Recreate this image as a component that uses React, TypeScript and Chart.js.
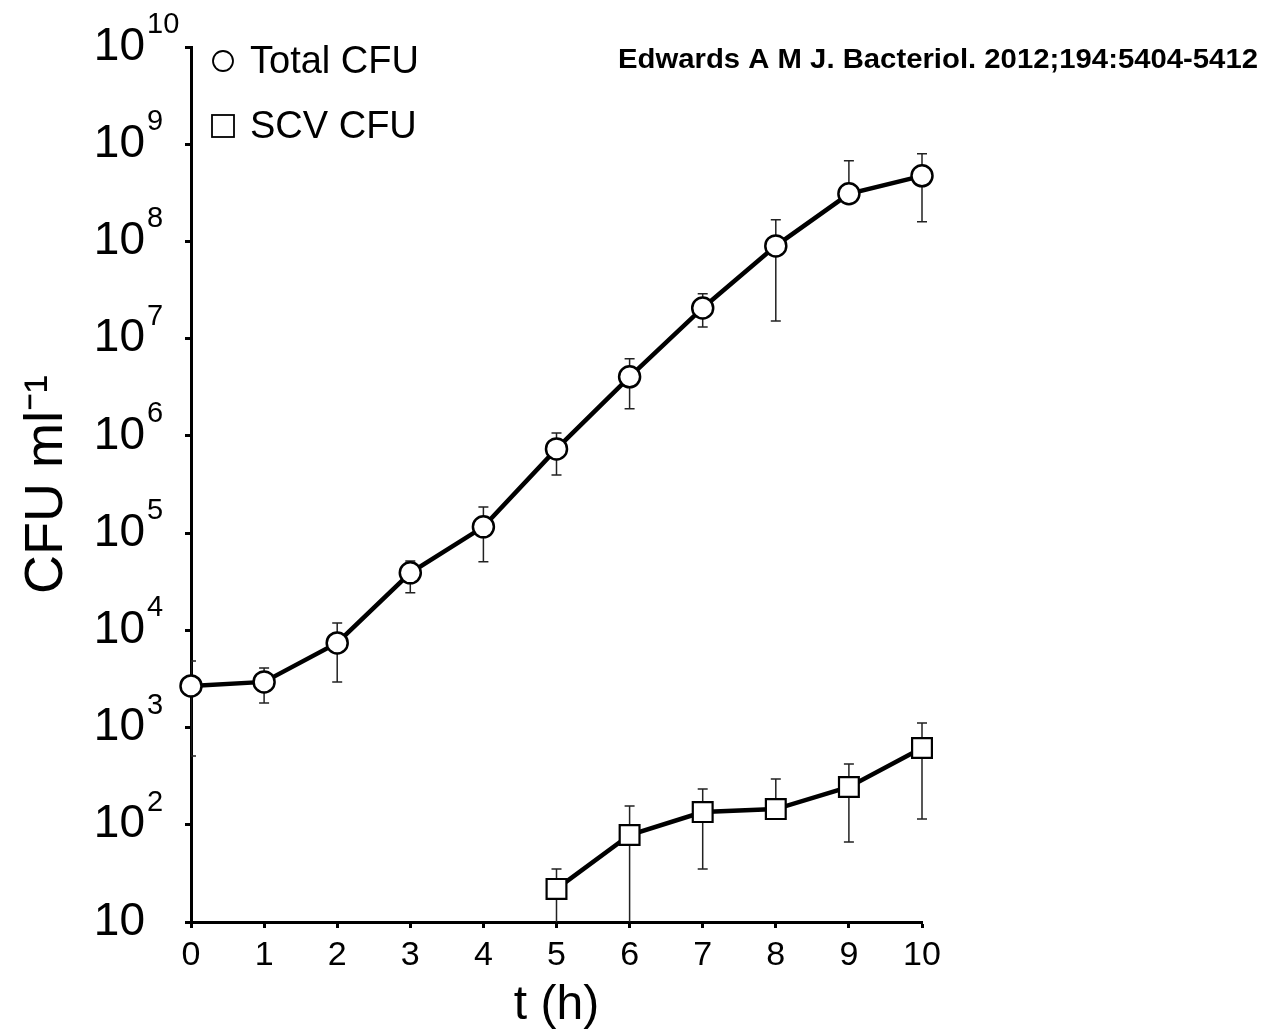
import React, { useEffect, useRef } from 'react';
import { Chart, registerables } from 'chart.js';

Chart.register(...registerables);

const FONT = "'Liberation Sans', Arial, Helvetica, sans-serif";

// Total CFU (circles)
const hours = [0, 1, 2, 3, 4, 5, 6, 7, 8, 9, 10];
const totalCFU = [2680, 2950, 7420, 39000, 116000, 735000, 4.05e6, 2.07e7, 9.0e7, 3.09e8, 4.73e8];
const totalUpper = [4840, 4100, 11900, 51800, 186000, 1.07e6, 6.2e6, 2.89e7, 1.67e8, 6.75e8, 7.96e8];
const totalLower = [510, 1790, 2950, 24300, 50600, 397000, 1.9e6, 1.32e7, 1.52e7, 2.6e8, 1.59e8];

// SCV CFU (squares)
const scvHours = [5, 6, 7, 8, 9, 10];
const scvCFU = [21.9, 78.5, 135, 145, 245, 617];
const scvUpper = [35.1, 156, 233, 296, 423, 1115];
const scvLower = [1, 1, 35.1, 130, 66.5, 115];

// Axis ticks
const yTickValues = [10, 1e2, 1e3, 1e4, 1e5, 1e6, 1e7, 1e8, 1e9, 1e10];
const yTickBase = ['10', '10', '10', '10', '10', '10', '10', '10', '10', '10'];
const yTickExponents = ['', '2', '3', '4', '5', '6', '7', '8', '9', '10'];
const xTickValues = [0, 1, 2, 3, 4, 5, 6, 7, 8, 9, 10];

const seriesNames = ['Total CFU', 'SCV CFU'];
const citation = 'Edwards A M J. Bacteriol. 2012;194:5404-5412';
const xTitle = 't (h)';
const yTitle = 'CFU ml\u207B\u00B9';

const errorBarPlugin = {
  id: 'errorBars',
  beforeDatasetsDraw(chart: any) {
    const { ctx, chartArea, scales } = chart;
    const x = scales.x;
    const y = scales.y;
    ctx.save();
    ctx.beginPath();
    ctx.rect(chartArea.left, 0, chart.width - chartArea.left, chartArea.bottom);
    ctx.clip();
    ctx.strokeStyle = '#222';
    ctx.lineWidth = 1.5;
    chart.data.datasets.forEach((ds: any) => {
      ds.data.forEach((p: any, i: number) => {
        const px = x.getPixelForValue(p.x);
        const top = y.getPixelForValue(ds.errUpper[i]);
        const bottom = y.getPixelForValue(ds.errLower[i]);
        ctx.beginPath();
        ctx.moveTo(px, top);
        ctx.lineTo(px, bottom);
        ctx.moveTo(px - 5, top);
        ctx.lineTo(px + 5, top);
        ctx.moveTo(px - 5, bottom);
        ctx.lineTo(px + 5, bottom);
        ctx.stroke();
      });
    });
    ctx.restore();
  },
};

const annotationPlugin = {
  id: 'annotations',
  afterDraw(chart: any) {
    const { ctx, chartArea, scales } = chart;
    const y = scales.y;
    ctx.save();
    // exponents of y tick labels
    ctx.fillStyle = '#000';
    ctx.font = `29px ${FONT}`;
    ctx.textAlign = 'left';
    ctx.textBaseline = 'middle';
    const expX = chartArea.left - 6 - 40 + 2;
    yTickValues.forEach((v, i) => {
      const e = yTickExponents[i];
      if (!e) return;
      ctx.fillText(e, expX, y.getPixelForValue(v) - 22);
    });

    // legend
    const lx = chartArea.left + 32;
    const ly1 = chartArea.top + 14;
    const ly2 = chartArea.top + 79;
    ctx.strokeStyle = '#000';
    ctx.lineWidth = 1.8;
    ctx.beginPath();
    ctx.arc(lx, ly1, 10, 0, Math.PI * 2);
    ctx.stroke();
    ctx.strokeRect(lx - 11, ly2 - 11, 22, 22);
    ctx.font = `38px ${FONT}`;
    ctx.textBaseline = 'middle';
    ctx.fillText(seriesNames[0], lx + 27, ly1 + 2);
    ctx.fillText(seriesNames[1], lx + 27, ly2 + 2);

    // citation
    ctx.font = `bold 28px ${FONT}`;
    const w = ctx.measureText(citation).width;
    const targetW = 640;
    const sx = targetW / w;
    ctx.translate(1258, 60);
    ctx.scale(sx, 1);
    ctx.textAlign = 'right';
    ctx.fillText(citation, 0, 0);
    ctx.restore();
  },
};

export default function App() {
  const ref = useRef<HTMLCanvasElement>(null);
  useEffect(() => {
    document.body.style.margin = '0';
    const canvas = ref.current!;
    const chart = new Chart(canvas, {
      type: 'line',
      data: {
        datasets: [
          {
            label: seriesNames[0],
            data: hours.map((h, i) => ({ x: h, y: totalCFU[i] })),
            errUpper: totalUpper,
            errLower: totalLower,
            borderColor: '#000',
            borderWidth: 4.5,
            pointStyle: 'circle',
            pointRadius: 10.5,
            pointBorderWidth: 2.5,
            pointBackgroundColor: '#fff',
            pointBorderColor: '#000',
            clip: false,
            tension: 0,
          } as any,
          {
            label: seriesNames[1],
            data: scvHours.map((h, i) => ({ x: h, y: scvCFU[i] })),
            errUpper: scvUpper,
            errLower: scvLower,
            borderColor: '#000',
            borderWidth: 4.5,
            pointStyle: 'rect',
            pointRadius: 14,
            pointBorderWidth: 2.2,
            pointBackgroundColor: '#fff',
            pointBorderColor: '#000',
            clip: false,
            tension: 0,
          } as any,
        ],
      },
      options: {
        animation: false,
        responsive: false,
        devicePixelRatio: 1,
        layout: { padding: { top: 47, right: 348, bottom: 0, left: 0 } },
        plugins: {
          legend: { display: false },
          tooltip: { enabled: false },
          title: { display: false },
        },
        scales: {
          x: {
            type: 'linear',
            min: 0,
            max: 10,
            afterBuildTicks: (axis: any) => {
              axis.ticks = xTickValues.map((v) => ({ value: v }));
            },
            afterFit: (scale: any) => {
              scale.height = 112;
            },
            grid: {
              display: true,
              drawOnChartArea: false,
              drawTicks: true,
              tickLength: 6,
              tickWidth: 3,
              tickColor: '#000',
            },
            border: { display: true, color: '#000', width: 3 },
            ticks: {
              color: '#000',
              font: { family: FONT, size: 34, lineHeight: 1.2 },
              padding: 7,
              autoSkip: false,
              maxRotation: 0,
              callback: (v: any) => String(v),
            },
            title: {
              display: true,
              text: xTitle,
              color: '#000',
              font: { family: FONT, size: 48, lineHeight: 1 },
              padding: { top: 0, bottom: 4 },
            },
          },
          y: {
            type: 'logarithmic',
            min: 10,
            max: 1e10,
            afterBuildTicks: (axis: any) => {
              axis.ticks = yTickValues.map((v) => ({ value: v }));
            },
            afterFit: (scale: any) => {
              scale.width = 191;
            },
            grid: {
              display: true,
              drawOnChartArea: false,
              drawTicks: true,
              tickLength: 6,
              tickWidth: 3,
              tickColor: '#000',
            },
            border: { display: true, color: '#000', width: 3 },
            ticks: {
              color: '#000',
              font: { family: FONT, size: 46, lineHeight: 0.2 },
              padding: 40,
              autoSkip: false,
              callback: (v: any) => {
                const i = yTickValues.indexOf(Number(v));
                return i >= 0 ? yTickBase[i] : '';
              },
            },
            title: {
              display: true,
              text: yTitle,
              color: '#000',
              font: { family: FONT, size: 54, lineHeight: 1 },
              padding: { top: 20, bottom: 0 },
            },
          },
        },
      },
      plugins: [errorBarPlugin, annotationPlugin],
    } as any);
    return () => chart.destroy();
  }, []);
  return (
    <div style={{ width: 1270, height: 1034, background: '#fff' }}>
      <canvas ref={ref} width={1270} height={1034} style={{ display: 'block' }} />
    </div>
  );
}
